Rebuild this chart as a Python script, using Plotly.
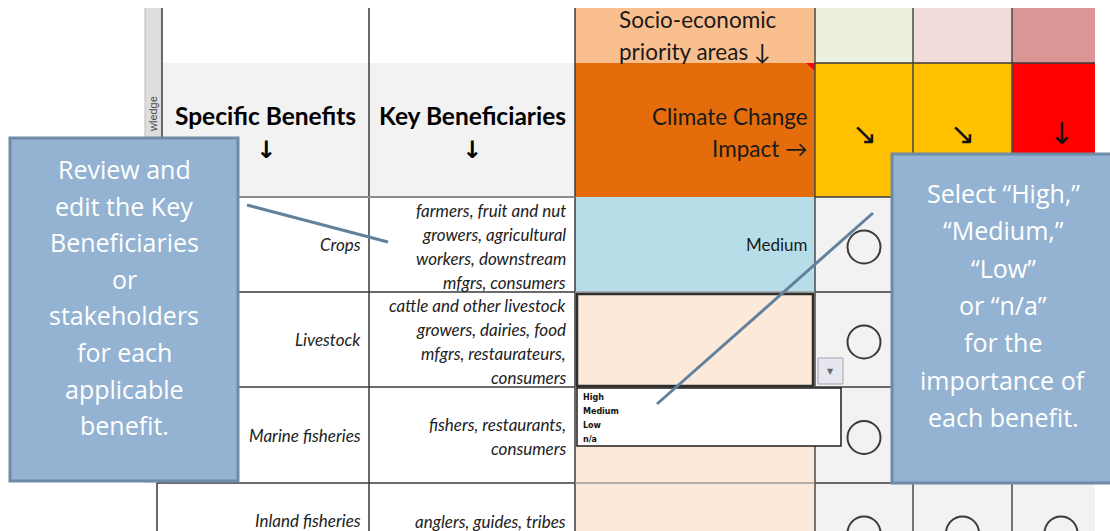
import plotly.graph_objects as go

# ---------------- data ----------------
benefits = ["Crops", "Livestock", "Marine fisheries", "Inland fisheries"]
beneficiaries = [
    ["farmers, fruit and nut", "growers, agricultural", "workers, downstream", "mfgrs, consumers"],
    ["cattle and other livestock", "growers, dairies, food", "mfgrs, restaurateurs,", "consumers"],
    ["fishers, restaurants,", "consumers"],
    ["anglers, guides, tribes"],
]
importance = ["Medium", "", "", ""]
dropdown_options = ["High", "Medium", "Low", "n/a"]
impact_arrows = ["↘", "↘", "↓"]
header_cols = ["Specific Benefits", "Key Beneficiaries"]
socio_header = ["Socio-economic", "priority areas ↓"]
impact_header = ["Climate Change", "Impact →"]
left_callout = ["Review and", "edit the Key", "Beneficiaries", "or", "stakeholders",
                "for each", "applicable", "benefit."]
right_callout = ["Select “High,”", "“Medium,”", "“Low”", "or “n/a”", "for the",
                 "importance of", "each benefit."]

# ---------------- layout geometry ----------------
W, H = 1110, 575          # page shows the top 531 px
col_x = [162, 369, 575, 815, 913, 1012, 1095]
col_f_right = 1110        # last column continues past the visible fill
row_y = [8, 63, 197, 292, 387, 483, 573]

top_colors = ["#FFFFFF", "#FFFFFF", "#FABF8F", "#EBF1DE", "#F2DCDB", "#D99694"]
hdr_colors = ["#F2F2F2", "#F2F2F2", "#E46C0A", "#FFC000", "#FFC000", "#FF0000"]
row_c_colors = ["#B7DEE8", "#FDE9D9", "#FDE9D9", "#FDE9D9"]

DARK = "#3A3A3A"
GRAYLINE = "#9A9A9A"
BOX_FILL = "#94B3D2"
BOX_EDGE = "#6E8CA8"
CONNECT = "#62819D"
TABLE_FONT = "Lato"
CALLOUT_FONT = "Open Sans"

shapes = []
annotations = []


def rect(x0, y0, x1, y1, fill, line=None, lw=0, layer="below"):
    shapes.append(dict(type="rect", xref="x", yref="y", x0=x0, y0=y0, x1=x1, y1=y1,
                       fillcolor=fill, line=dict(color=line or fill, width=lw), layer=layer))


def line(x0, y0, x1, y1, color=DARK, lw=1.5, layer="below"):
    shapes.append(dict(type="line", xref="x", yref="y", x0=x0, y0=y0, x1=x1, y1=y1,
                       line=dict(color=color, width=lw), layer=layer))


def text(x, y, s, size, color="#000000", family=TABLE_FONT, xanchor="center",
         yanchor="middle", angle=0):
    annotations.append(dict(x=x, y=y, xref="x", yref="y", text=s, showarrow=False,
                            xanchor=xanchor, yanchor=yanchor, textangle=angle,
                            font=dict(size=size, color=color, family=family)))


impact_centers = [(col_x[3] + col_x[4]) / 2, (col_x[4] + col_x[5]) / 2,
                  (col_x[5] + col_f_right) / 2]

# left gray strip
rect(145, row_y[0], col_x[0], row_y[5], "#DEDEDE")
line(145, row_y[0], 145, row_y[5], "#BDBDBD", 1)
text(153, 114, "wledge", 11, "#4A4A4A", "Liberation Sans", angle=-90)

# header rows
for i in range(6):
    rect(col_x[i], row_y[0], col_x[i + 1], row_y[1], top_colors[i])
    rect(col_x[i], row_y[1], col_x[i + 1], row_y[2], hdr_colors[i])

# data rows
for r in range(4):
    y0, y1 = row_y[2 + r], row_y[3 + r]
    x_left = col_x[0] if r < 3 else 157
    rect(x_left, y0, col_x[1], y1, "#FFFFFF")
    rect(col_x[1], y0, col_x[2], y1, "#FFFFFF")
    rect(col_x[2], y0, col_x[3], y1, row_c_colors[r])
    rect(col_x[3], y0, col_x[6], y1, "#F2F2F2")

# red comment triangle
shapes.append(dict(type="path", xref="x", yref="y",
                   path=f"M {col_x[3]-9},{row_y[1]} L {col_x[3]},{row_y[1]} L {col_x[3]},{row_y[1]+8} Z",
                   fillcolor="#FF0000", line=dict(width=0), layer="below"))

# grid lines
line(col_x[0], row_y[0], col_x[0], row_y[5])
line(157, row_y[5], 157, H)
for cx in (col_x[1], col_x[2]):
    line(cx, row_y[0], cx, H)
for cx in (col_x[3], col_x[4], col_x[5]):
    line(cx, row_y[0], cx, H, "#4A4A4A")
line(col_x[3], row_y[1], col_x[6], row_y[1])
line(col_x[0], row_y[2], col_x[2], row_y[2], "#8C8C8C", 2)
line(col_x[3], row_y[2], col_x[6], row_y[2])
for ry in row_y[3:6]:
    line(col_x[0] if ry < row_y[5] else 157, ry, col_x[2], ry)
    line(col_x[2], ry, col_x[3], ry, GRAYLINE)
    line(col_x[3], ry, col_x[6], ry)

# selected cell (Livestock importance) + dropdown
rect(col_x[2] + 2, row_y[3] + 2, col_x[3] - 2, row_y[4] - 1, "rgba(0,0,0,0)", "#2E2E2E", 2.5)
rect(818, 358, 843, 384, "#E6E7EE", "#A3A5AE", 1)
text(830.5, 371, "▼", 8, "#6A6A6A", "DejaVu Sans")
rect(577, 388, 841, 446, "#FFFFFF", "#1E1E1E", 1.5)
for k, opt in enumerate(dropdown_options):
    text(581, 397 + 14 * k, f"<b>{opt}</b>", 8, "#111111", "DejaVu Sans", xanchor="left")

# header texts
for i, h in enumerate(header_cols):
    cx = (col_x[i] + col_x[i + 1]) / 2
    text(cx, 115, f"<b>{h}</b>", 24.5, "#000000")
    text(cx, 150, "<b>↓</b>", 24, "#000000", "DejaVu Sans")
text(617, 19, socio_header[0], 22.5, "#1A1A1A", xanchor="left")
text(617, 51, socio_header[1], 22.5, "#1A1A1A", xanchor="left")
text(810, 116, impact_header[0], 22.5, "#1A1A1A", xanchor="right")
text(810, 148, impact_header[1], 22.5, "#1A1A1A", xanchor="right")
for j, a in enumerate(impact_arrows):
    text(impact_centers[j], 133, a, 30, "#111111", "DejaVu Sans")

# row texts
for r in range(4):
    y0, y1 = row_y[2 + r], row_y[3 + r]
    cy = (y0 + y1) / 2 if r < 3 else 520
    text(col_x[1] - 6, cy, f"<i>{benefits[r]}</i>", 17, "#222222", xanchor="right")
    lines_b = beneficiaries[r]
    n = len(lines_b)
    for k, s in enumerate(lines_b):
        text(col_x[2] - 7, cy + 1.5 + (k - (n - 1) / 2) * 24, f"<i>{s}</i>", 17, "#222222",
             xanchor="right")
    if importance[r]:
        text(col_x[3] - 5, cy, importance[r], 17, "#1A1A1A", xanchor="right")

# circles (importance indicators)
cxs, cys = [], []
for r in range(4):
    cy = (row_y[2 + r] + row_y[3 + r]) / 2 + 2.5
    if r == 3:
        cy = row_y[5] + 50
    for j in range(3):
        cxs.append(impact_centers[j])
        cys.append(cy)
circles = go.Scatter(x=cxs, y=cys, mode="markers", hoverinfo="skip", cliponaxis=False,
                     marker=dict(symbol="circle-open", size=33, color="#3A3A3A",
                                 line=dict(width=2, color="#3A3A3A")))

# callouts
line(247, 205, 388, 242, CONNECT, 3, "above")
line(873, 213, 657, 404, CONNECT, 3, "above")
rect(10, 138, 238, 481, BOX_FILL, BOX_EDGE, 3, "above")
rect(892, 154, 1125, 483, BOX_FILL, BOX_EDGE, 3, "above")
for k, s in enumerate(left_callout):
    text(124, 169 + 36.6 * k, s, 25, "#FFFFFF", CALLOUT_FONT)
for k, s in enumerate(right_callout):
    text(1003, 193 + 37.3 * k, s, 25, "#FFFFFF", CALLOUT_FONT)

fig = go.Figure(circles)
fig.update_layout(
    width=W, height=H, margin=dict(l=0, r=0, t=0, b=0),
    paper_bgcolor="#FFFFFF", plot_bgcolor="#FFFFFF",
    xaxis=dict(range=[0, W], visible=False, fixedrange=True),
    yaxis=dict(range=[H, 0], visible=False, fixedrange=True),
    shapes=shapes, annotations=annotations, showlegend=False,
)
fig.write_html("out.html", config={"displayModeBar": False},
               post_script="document.body.style.margin='0';document.body.style.overflow='hidden';")
